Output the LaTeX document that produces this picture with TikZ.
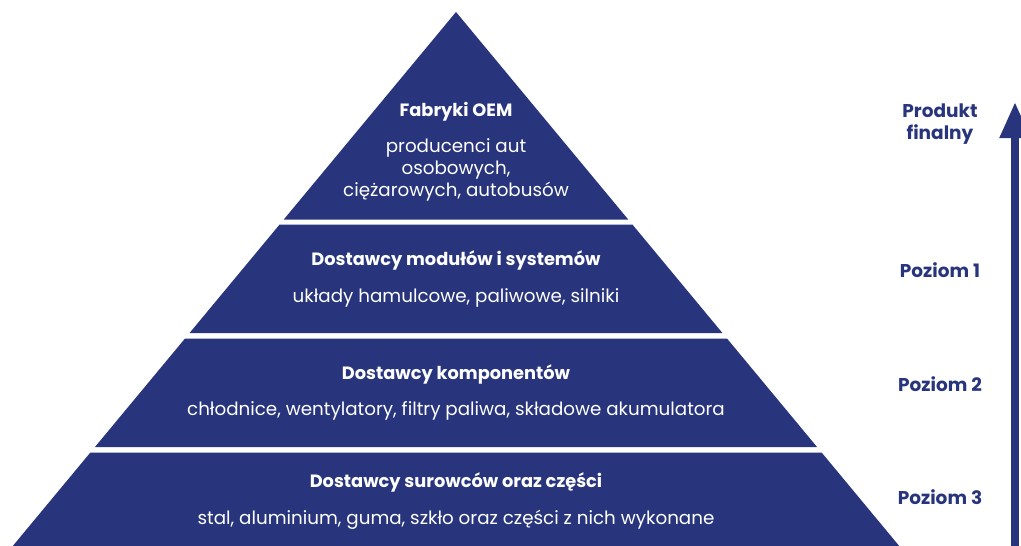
\documentclass[tikz,border=0pt]{standalone}
\usepackage{fontspec}
\setmainfont{Poppins}
\usetikzlibrary{arrows.meta}
\definecolor{navy}{RGB}{40,53,125}

\begin{document}
\begin{tikzpicture}[x=1pt,y=-1pt,
  band/.style={fill=navy},
  title/.style={text=white,font=\fontsize{17.8}{20}\selectfont\bfseries},
  desc/.style={text=white,font=\fontsize{18.3}{22}\selectfont,align=center},
  side/.style={text=navy,font=\fontsize{18.5}{22}\selectfont\bfseries,align=center}]
  \useasboundingbox (0,0) rectangle (1021,546);

  \foreach \t/\b in {12/219.5, 224.5/333, 338.5/447, 452.5/560}
    \fill[band] ({456-0.83*(\t-12)},\t) -- ({456+0.83*(\t-12)},\t)
      -- ({456+0.83*(\b-12)},\b) -- ({456-0.83*(\b-12)},\b) -- cycle;

  \node[title] (oem) at (456,112) {Fabryki OEM};
  \node[desc] (oemd) at (456,170) {producenci aut\\osobowych,\\ciężarowych, autobusów};
  \node[title] (mod) at (456,260) {Dostawcy modułów i systemów};
  \node[desc] (modd) at (456,298) {układy hamulcowe, paliwowe, silniki};
  \node[title] (kom) at (456,374) {Dostawcy komponentów};
  \node[desc] (komd) at (456,411) {chłodnice, wentylatory, filtry paliwa, składowe akumulatora};
  \node[title] (sur) at (456,482) {Dostawcy surowców oraz części};
  \node[desc] (surd) at (456,520) {stal, aluminium, guma, szkło oraz części z nich wykonane};

  \node[side] (prod) at (940,124) {Produkt\\finalny};
  \node[side] (p1) at (940,270) {Poziom 1};
  \node[side] (p2) at (940,384) {Poziom 2};
  \node[side] (p3) at (940,497) {Poziom 3};

  \coordinate (arrbot) at (1015,560);
  \coordinate (arrtop) at (1015,102);
  \draw[navy,line width=8pt,-{Triangle[width=29pt,length=36pt]}] (arrbot) -- (arrtop);
\end{tikzpicture}
\end{document}
